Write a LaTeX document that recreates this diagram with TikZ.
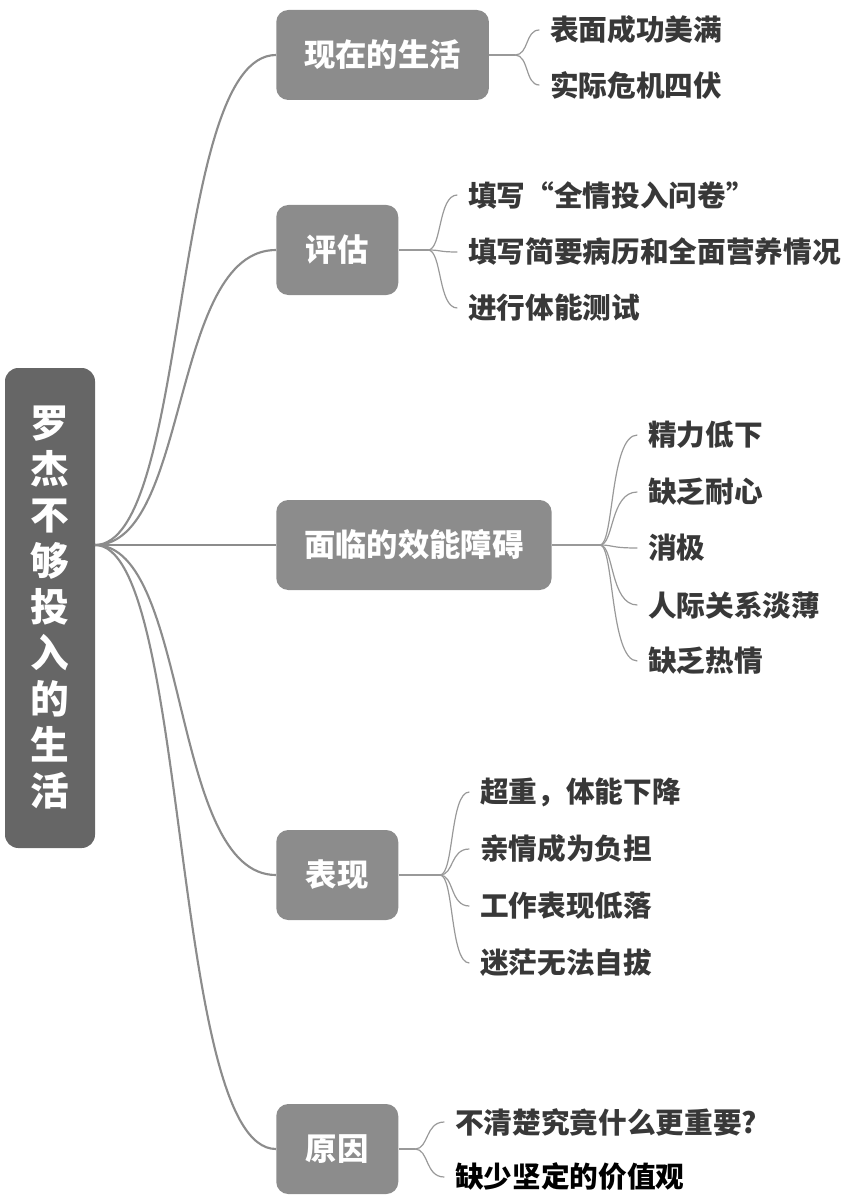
\documentclass[tikz,border=0pt]{standalone}
\usepackage{fontspec}
\setmainfont{Noto Sans CJK SC}
\usetikzlibrary{positioning}
\tikzset{
  root/.style={rectangle, rounded corners=10pt, fill=black!60, text=white, minimum width=67.5pt, minimum height=360pt, font=\fontsize{29}{34.5}\selectfont\bfseries, align=center},
  topic/.style={rectangle, rounded corners=9pt, fill=black!45, text=white, minimum height=67.5pt, font=\fontsize{23.5}{28}\selectfont\bfseries, inner xsep=21pt},
  leaf/.style={anchor=west, text=black!78, font=\fontsize{21.5}{26}\selectfont\bfseries, inner sep=0pt},
  link/.style={draw=black!45, line width=1.6pt},
  fork/.style={draw=black!40, line width=0.9pt},
}
\begin{document}
\begin{tikzpicture}[x=0.75pt, y=-0.75pt]
  \useasboundingbox (0,0) rectangle (858,1198);
  % root and topics
  \node[root] (root) at (50,608) {罗\\杰\\不\\够\\投\\入\\的\\生\\活};
  \node[topic, anchor=west] (now) at (276,55) {现在的生活};
  \node[topic, anchor=west, minimum width=91.5pt] (eval) at (276,250) {评估};
  \node[topic, anchor=west] (barrier) at (276,545) {面临的效能障碍};
  \node[topic, anchor=west, minimum width=91.5pt] (show) at (276,875) {表现};
  \node[topic, anchor=west, minimum width=91.5pt] (cause) at (276,1149) {原因};
  \coordinate (hub) at (95,545);
  \foreach \t in {now, eval, barrier, show, cause}
    \draw[link] (hub) .. controls (190,545) and (170,0|-\t.west) .. (\t.west);
  % leaves
  \node[leaf] (now1) at (550,30) {表面成功美满};
  \node[leaf] (now2) at (550,85) {实际危机四伏};
  \node[leaf] (eval1) at (468,195) {填写“全情投入问卷”};
  \node[leaf] (eval2) at (468,252) {填写简要病历和全面营养情况};
  \node[leaf] (eval3) at (468,308) {进行体能测试};
  \node[leaf] (bar1) at (648,435) {精力低下};
  \node[leaf] (bar2) at (648,492) {缺乏耐心};
  \node[leaf] (bar3) at (648,548) {消极};
  \node[leaf] (bar4) at (648,605) {人际关系淡薄};
  \node[leaf] (bar5) at (648,661) {缺乏热情};
  \node[leaf] (show1) at (480,792) {超重，体能下降};
  \node[leaf] (show2) at (480,849) {亲情成为负担};
  \node[leaf] (show3) at (480,906) {工作表现低落};
  \node[leaf] (show4) at (480,963) {迷茫无法自拔};
  \node[leaf] (cause1) at (455,1122) {不清楚究竟什么更重要?};
  \node[leaf, text=black] (cause2) at (455,1177) {缺少坚定的价值观};
  % forks
  \foreach \t/\x/\l in {now/515/{now1,now2}, eval/428/{eval1,eval2,eval3},
      barrier/600/{bar1,bar2,bar3,bar4,bar5}, show/440/{show1,show2,show3,show4},
      cause/415/{cause1,cause2}} {
    \draw[fork] (\t.east) -- (\x,0|-\t.east);
    \foreach \n in \l
      \draw[fork] (\x,0|-\t.east) .. controls (\x+14,0|-\t.east) and (\x+10,0|-\n.west) .. ([xshift=-8pt]\n.west);
  }
\end{tikzpicture}
\end{document}
